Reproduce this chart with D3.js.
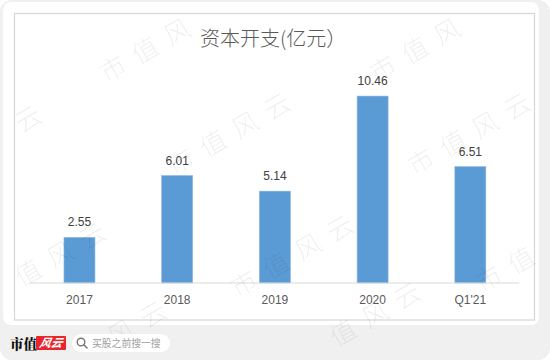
<!DOCTYPE html>
<html>
<head>
<meta charset="utf-8">
<script src="https://cdn.jsdelivr.net/npm/d3@7/dist/d3.min.js"></script>
<style>
  html, body { margin: 0; padding: 0; background: #ffffff; }
  svg { display: block; }
</style>
</head>
<body>
<svg id="chart" width="550" height="360"></svg>
<script>
// ---- data ----
const categories = ["2017", "2018", "2019", "2020", "Q1'21"];
const capex = [2.55, 6.01, 5.14, 10.46, 6.51];
const valueLabels = ["2.55", "6.01", "5.14", "10.46", "6.51"];
const title = "资本开支(亿元）";

// decorative watermark pieces: [first-glyph centre x, y, visible text] – layout only
const watermarkSpots = [
  [112, 67, "市值风"], [382, 67, "市值风"],
  [27, 117, "云"], [180, 160, "市值风云"], [420, 160, "市值风云"],
  [27, 271, "值风云"], [243, 282, "市值风云"], [488, 277, "市值"],
  [120, 331, "风云"], [342, 331, "值风云"]
];

const svg = d3.select("#chart");
const W = 550, H = 360;

// outer grey rounded background
svg.append("rect").attr("x", 0).attr("y", 0).attr("width", W).attr("height", H)
  .attr("rx", 12).attr("fill", "#f0f0f0");
// white card
svg.append("rect").attr("x", 3).attr("y", 2).attr("width", 536).attr("height", 323)
  .attr("rx", 8).attr("fill", "#ffffff");
// inner frame
svg.append("rect").attr("x", 14.5).attr("y", 13.5).attr("width", 520).attr("height", 306.5)
  .attr("fill", "none").attr("stroke", "#d6d6d6").attr("stroke-width", 1.2);

// title
svg.append("text")
  .attr("x", 200).attr("y", 45.5)
  .attr("font-family", "'Noto Sans CJK SC', sans-serif")
  .attr("font-weight", 300)
  .attr("font-size", 20)
  .attr("fill", "#595959")
  .text(title);

// scales
const x = d3.scaleBand()
  .domain(categories)
  .range([30.6, 519.2])
  .paddingInner(0.683)
  .paddingOuter(0.3415);

const y = d3.scaleLinear()
  .domain([0, 12])
  .range([283, 283 - 12 * 17.87]);

// bars
svg.append("g").selectAll("rect")
  .data(capex)
  .join("rect")
  .attr("x", (d, i) => x(categories[i]))
  .attr("y", d => y(d))
  .attr("width", x.bandwidth())
  .attr("height", d => y(0) - y(d))
  .attr("fill", "#5b9bd5")
  .attr("stroke", "#8ab6e2")
  .attr("stroke-width", 0.6);

// value labels
svg.append("g").selectAll("text")
  .data(capex)
  .join("text")
  .attr("x", (d, i) => x(categories[i]) + x.bandwidth() / 2)
  .attr("y", d => y(d) - 11)
  .attr("text-anchor", "middle")
  .attr("font-family", "'Liberation Sans', Arial, sans-serif")
  .attr("font-size", 12)
  .attr("fill", "#404040")
  .text((d, i) => valueLabels[i]);

// x axis
const xAxis = d3.axisBottom(x).tickSize(0).tickPadding(12);
const gx = svg.append("g").attr("transform", `translate(0,${y(0)})`).call(xAxis);
gx.select(".domain").attr("stroke", "#d9d9d9").attr("stroke-width", 1.2)
  .attr("d", "M30.6,0H519.2");
gx.selectAll(".tick text")
  .attr("font-family", "'Liberation Sans', Arial, sans-serif")
  .attr("font-size", 12)
  .attr("fill", "#595959");

// watermarks
const wm = svg.append("g").attr("pointer-events", "none");
watermarkSpots.forEach(([cx, cy, txt]) => {
  wm.append("text")
    .attr("transform", `translate(${cx},${cy}) rotate(-30)`)
    .attr("x", -13).attr("y", 0)
    .attr("dominant-baseline", "central")
    .attr("font-family", "'Noto Sans CJK SC', sans-serif")
    .attr("font-weight", 300)
    .attr("font-size", 26)
    .attr("letter-spacing", 11)
    .attr("fill", "#000")
    .attr("fill-opacity", 0.075)
    .text(txt);
});

// footer logo
svg.append("text")
  .attr("x", 10).attr("y", 349)
  .attr("font-family", "'Noto Serif CJK SC', 'Noto Sans CJK SC', serif")
  .attr("font-weight", 900)
  .attr("font-size", 13.5)
  .attr("fill", "#111")
  .text("市值");
svg.append("rect").attr("x", 36).attr("y", 336).attr("width", 30).attr("height", 14)
  .attr("fill", "#e6262c").attr("rx", 1);
svg.append("text")
  .attr("x", 51).attr("y", 347.5)
  .attr("text-anchor", "middle")
  .attr("font-family", "'Noto Sans CJK SC', sans-serif")
  .attr("font-size", 11.5)
  .attr("font-style", "italic")
  .attr("font-weight", 700)
  .attr("fill", "#ffffff")
  .attr("transform", "skewX(-12) translate(73,0)")
  .text("风云");

// search pill
svg.append("rect").attr("x", 72).attr("y", 334).attr("width", 98).attr("height", 18)
  .attr("rx", 9).attr("fill", "#ffffff");
svg.append("circle").attr("cx", 81).attr("cy", 342).attr("r", 3.8)
  .attr("fill", "none").attr("stroke", "#777").attr("stroke-width", 1.4);
svg.append("line").attr("x1", 83.8).attr("y1", 344.8).attr("x2", 87).attr("y2", 348)
  .attr("stroke", "#777").attr("stroke-width", 1.6).attr("stroke-linecap", "round");
svg.append("text")
  .attr("x", 92).attr("y", 346.5)
  .attr("font-family", "'Noto Sans CJK SC', sans-serif")
  .attr("font-size", 9.8)
  .attr("fill", "#a0a0a0")
  .text("买股之前搜一搜");
</script>
</body>
</html>
